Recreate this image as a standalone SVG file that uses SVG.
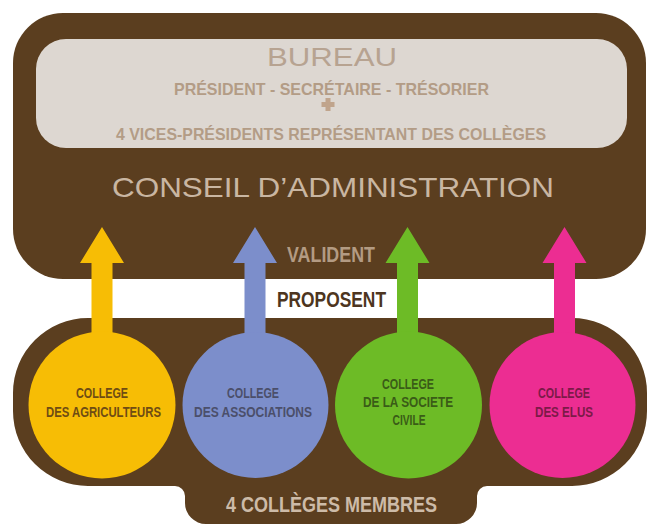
<svg xmlns="http://www.w3.org/2000/svg" width="648" height="524" viewBox="0 0 648 524">
  <style>
    .brown { fill: #5b3e1f; }
    .cond { font-family: "Liberation Sans Narrow", "Liberation Sans", Arial, sans-serif; font-weight: bold; text-anchor: middle; }
    .thin { font-family: "Liberation Sans", Arial, sans-serif; font-weight: normal; text-anchor: middle; }
    .lbl { font-size: 14px; }
  </style>
  <rect width="648" height="524" fill="#ffffff"/>

  <g id="conseil">
    <rect class="brown" x="13" y="13" width="633" height="266" rx="50" ry="50"/>
    <text class="thin" x="333" y="197" font-size="28" fill="#c9b6a2" textLength="442" lengthAdjust="spacingAndGlyphs">CONSEIL D’ADMINISTRATION</text>
  </g>

  <g id="bureau">
    <rect x="36" y="39" width="591" height="109" rx="30" ry="30" fill="#ddd7d1"/>
    <text class="thin" x="332" y="66" font-size="26" fill="#b7a391" textLength="130" lengthAdjust="spacingAndGlyphs">BUREAU</text>
    <text class="cond" x="331.5" y="95" font-size="16.5" fill="#b39c86" textLength="315" lengthAdjust="spacingAndGlyphs">PRÉSIDENT - SECRÉTAIRE - TRÉSORIER</text>
    <path d="M325.5 98 h5 v4 h4 v5 h-4 v4 h-5 v-4 h-4 v-5 h4 z" fill="#c0a48c"/>
    <text class="cond" x="331" y="140" font-size="16.5" fill="#b39c86" textLength="430" lengthAdjust="spacingAndGlyphs">4 VICES-PRÉSIDENTS REPRÉSENTANT DES COLLÈGES</text>
  </g>

  <g id="membres">
    <path class="brown" d="M88 318 H572 A75 75 0 0 1 647 393 V411 A75 75 0 0 1 572 486 H487 A10 10 0 0 0 477 496 V503 A21 21 0 0 1 456 524 H206 A21 21 0 0 1 185 503 V496 A10 10 0 0 0 175 486 H88 A75 75 0 0 1 13 411 V393 A75 75 0 0 1 88 318 Z"/>
    <text class="cond" x="331.5" y="512" font-size="22" fill="#cdbba8" textLength="211" lengthAdjust="spacingAndGlyphs">4 COLLÈGES MEMBRES</text>
  </g>

  <g id="labels">
    <text class="cond" x="331" y="262" font-size="22" fill="#b39b83" textLength="88" lengthAdjust="spacingAndGlyphs">VALIDENT</text>
    <text class="cond" x="331.5" y="307" font-size="21.5" fill="#4d3520" textLength="109" lengthAdjust="spacingAndGlyphs">PROPOSENT</text>
  </g>

  <g id="connectors">
    <path d="M91.5 340 V263 H80 L102 227 L124 263 H112.5 V340 Z" fill="#f7bd05"/>
    <path d="M244.5 340 V263 H233 L255 227 L277 263 H265.5 V340 Z" fill="#7c8ecb"/>
    <path d="M397 340 V263 H385.5 L407.5 227 L429.5 263 H418 V340 Z" fill="#6dbb26"/>
    <path d="M554 340 V263 H542.5 L564.5 227 L586.5 263 H575 V340 Z" fill="#ec2d92"/>
  </g>

  <g id="college-agriculteurs">
    <circle cx="102" cy="405" r="73.5" fill="#f7bd05"/>
    <text class="cond lbl" x="102" y="398" fill="#6e4c14" textLength="52" lengthAdjust="spacingAndGlyphs">COLLEGE</text>
    <text class="cond lbl" x="103.5" y="417" fill="#6e4c14" textLength="115" lengthAdjust="spacingAndGlyphs">DES AGRICULTEURS</text>
  </g>

  <g id="college-associations">
    <circle cx="255.5" cy="405" r="73" fill="#7c8ecb"/>
    <text class="cond lbl" x="253" y="398" fill="#4b4f6a" textLength="52" lengthAdjust="spacingAndGlyphs">COLLEGE</text>
    <text class="cond lbl" x="253" y="417" fill="#4b4f6a" textLength="118" lengthAdjust="spacingAndGlyphs">DES ASSOCIATIONS</text>
  </g>

  <g id="college-societe-civile">
    <circle cx="408.5" cy="405" r="73.5" fill="#6dbb26"/>
    <text class="cond lbl" x="408" y="389" fill="#3a5c17" textLength="52" lengthAdjust="spacingAndGlyphs">COLLEGE</text>
    <text class="cond lbl" x="408" y="407" fill="#3a5c17" textLength="90" lengthAdjust="spacingAndGlyphs">DE LA SOCIETE</text>
    <text class="cond lbl" x="409" y="425" fill="#3a5c17" textLength="33" lengthAdjust="spacingAndGlyphs">CIVILE</text>
  </g>

  <g id="college-elus">
    <circle cx="562.5" cy="405" r="73" fill="#ec2d92"/>
    <text class="cond lbl" x="564" y="398" fill="#7c1a48" textLength="52" lengthAdjust="spacingAndGlyphs">COLLEGE</text>
    <text class="cond lbl" x="564" y="417" fill="#7c1a48" textLength="58" lengthAdjust="spacingAndGlyphs">DES ELUS</text>
  </g>
</svg>
